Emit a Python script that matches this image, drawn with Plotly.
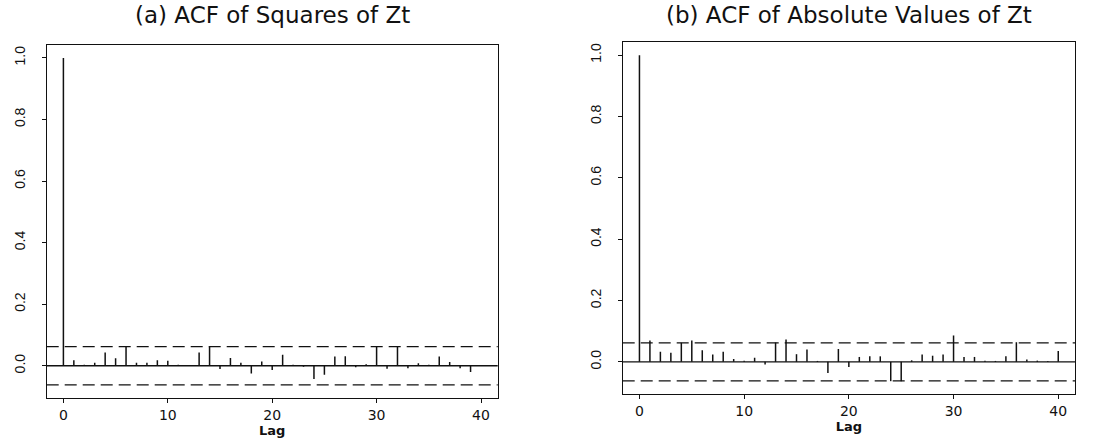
import plotly.graph_objects as go

# ---- data ----
LAGS = list(range(41))
ACF_SQUARES = [1.0, 0.018, 0.003, 0.010, 0.043, 0.024, 0.062, 0.010, 0.010, 0.018,
               0.016, 0.003, 0.002, 0.043, 0.062, -0.011, 0.025, 0.010, -0.025, 0.014,
               -0.014, 0.036, 0.003, -0.003, -0.043, -0.029, 0.030, 0.031, -0.005, 0.005,
               0.062, -0.010, 0.062, -0.008, 0.008, 0.003, 0.030, 0.012, -0.008, -0.020,
               0.000]
ACF_ABS = [1.0, 0.070, 0.033, 0.030, 0.062, 0.070, 0.038, 0.024, 0.033, 0.009,
           0.004, 0.013, -0.009, 0.063, 0.073, 0.025, 0.040, 0.003, -0.036, 0.042,
           -0.017, 0.016, 0.018, 0.018, -0.063, -0.063, 0.005, 0.024, 0.020, 0.024,
           0.086, 0.016, 0.016, 0.004, 0.003, 0.018, 0.064, 0.008, 0.004, 0.003,
           0.035]
CLIM = 0.062
X_TICKS = [0, 10, 20, 30, 40]
Y_TICKS = [0.0, 0.2, 0.4, 0.6, 0.8, 1.0]
Y_TICK_LABELS = ["0.0", "0.2", "0.4", "0.6", "0.8", "1.0"]
TITLES = ["(a) ACF of Squares of Zt", "(b) ACF of Absolute Values of Zt"]
X_LABEL = "Lag"

SERIES = [ACF_SQUARES, ACF_ABS]

# ---- layout geometry (pixels of the 1099x442 page) ----
W, H = 1099, 442
PANELS = [
    dict(x0=46.7, x1=497.7, top=44.7, bottom=398.0),
    dict(x0=622.7, x1=1075.0, top=42.0, bottom=394.0),
]
X_RANGE = [-1.6, 41.6]
Y_RANGE = [-0.1048, 1.0428]
INK = "#111111"

fig = go.Figure()

for i, (vals, p) in enumerate(zip(SERIES, PANELS)):
    xs, ys = [], []
    for lag, v in zip(LAGS, vals):
        xs += [lag, lag, None]
        ys += [0, v, None]
    ax = "" if i == 0 else str(i + 1)
    fig.add_trace(go.Scatter(
        x=xs, y=ys, mode="lines",
        line=dict(color=INK, width=1.5),
        xaxis="x" + ax, yaxis="y" + ax,
        showlegend=False, hoverinfo="skip",
    ))
    # confidence bands
    for c in (CLIM, -CLIM):
        fig.add_shape(type="line", xref="x" + ax + " domain", yref="y" + ax,
                      x0=0, x1=1, y0=c, y1=c,
                      line=dict(color=INK, width=1.3, dash="12px,6px"))
    # zero line
    fig.add_shape(type="line", xref="x" + ax + " domain", yref="y" + ax,
                  x0=0, x1=1, y0=0, y1=0,
                  line=dict(color=INK, width=1.3))

    xdom = [p["x0"] / W, p["x1"] / W]
    ydom = [1 - p["bottom"] / H, 1 - p["top"] / H]
    common = dict(showline=True, linecolor=INK, linewidth=1.3, mirror=True,
                  showgrid=False, zeroline=False, ticks="outside",
                  tickcolor=INK, ticklen=4, tickwidth=1.2)
    xa = dict(domain=xdom, range=X_RANGE, tickvals=X_TICKS,
              ticktext=[str(t) for t in X_TICKS],
              tickfont=dict(family="DejaVu Sans", size=14, color=INK),
              title=dict(text="<b>" + X_LABEL + "</b>",
                         font=dict(family="DejaVu Sans", size=13, color=INK),
                         standoff=0),
              anchor="y" + ax, **common)
    ya = dict(domain=ydom, range=Y_RANGE, tickvals=Y_TICKS,
              ticktext=Y_TICK_LABELS, tickangle=-90,
              tickfont=dict(family="Liberation Sans Narrow, Liberation Sans", size=14, color=INK),
              ticklabelstandoff=11,
              anchor="x" + ax, **common)
    fig.layout["xaxis" + ax] = xa
    fig.layout["yaxis" + ax] = ya

    fig.add_annotation(text=TITLES[i], xref="paper", yref="paper",
                       x=(xdom[0] + xdom[1]) / 2, y=1 - 15 / H,
                       xanchor="center", yanchor="middle", showarrow=False,
                       font=dict(family="DejaVu Sans", size=23, color=INK))

fig.update_layout(width=W, height=H, autosize=False,
                  margin=dict(l=0, r=0, t=0, b=0),
                  paper_bgcolor="white", plot_bgcolor="white")

fig.write_html("out.html")
